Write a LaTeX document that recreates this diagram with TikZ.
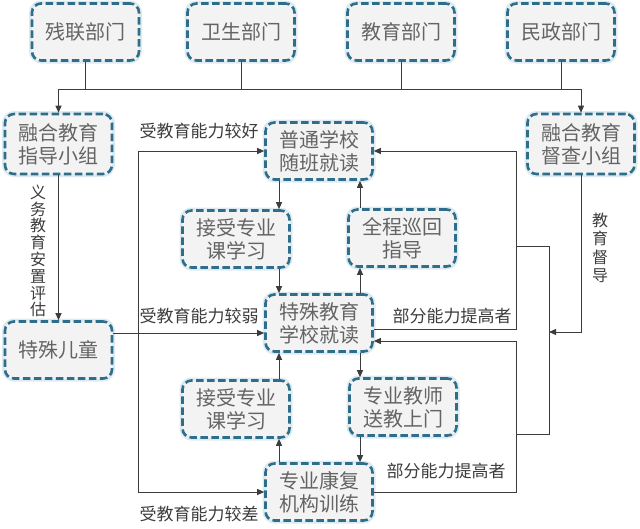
\documentclass[tikz,border=0pt]{standalone}
\usepackage{fontspec}
\newfontfamily\cjk{Noto Sans CJK SC}
\usetikzlibrary{arrows.meta}
\definecolor{bd}{HTML}{2F6E8A}
\definecolor{fl}{HTML}{F3F3F3}
\definecolor{tx}{HTML}{646464}
\definecolor{lc}{HTML}{3C3C3C}
\definecolor{gl}{HTML}{DDEBF1}
\begin{document}
\begin{tikzpicture}[x=1pt,y=-1pt,
 box/.style={draw=bd, fill=fl, line width=2.6pt, dash pattern=on 7.5pt off 3.5pt,
   rounded corners=9pt, minimum width=107pt, minimum height=57pt, inner sep=0pt,
   align=center, text=tx, font=\cjk\fontsize{20}{23}\selectfont,
   preaction={draw=gl, solid, line width=6pt}},
 lab/.style={text=lc, font=\cjk\fontsize{17}{19}\selectfont, inner sep=0pt},
 vlab/.style={text=lc, font=\cjk\fontsize{16}{16.8}\selectfont, inner sep=0pt, align=center},
 ar/.style={draw=lc, line width=1pt, -{Triangle[length=7pt,width=6pt]}},
 conn/.style={draw=lc, line width=1pt}]
\useasboundingbox (0,0) rectangle (640,528);
% nodes
\node[box] (cl) at (85.5,32) {残联部门};
\node[box] (ws) at (241,32) {卫生部门};
\node[box] (jy) at (401,32) {教育部门};
\node[box] (mz) at (561,32) {民政部门};
\node[box, minimum height=60pt] (zd) at (58.5,144) {融合教育\\指导小组};
\node[box, minimum height=60pt] (dc) at (581,144) {融合教育\\督查小组};
\node[box] (pt) at (319,151) {普通学校\\随班就读};
\node[box] (sa) at (236,239) {接受专业\\课学习};
\node[box] (xh) at (402,238) {全程巡回\\指导};
\node[box] (ts) at (319,323) {特殊教育\\学校就读};
\node[box] (er) at (58.5,350) {特殊儿童};
\node[box] (sb) at (236,409) {接受专业\\课学习};
\node[box] (sj) at (403,407) {专业教师\\送教上门};
\node[box] (kf) at (319,492) {专业康复\\机构训练};
% top bus
\coordinate (bl) at (58.5,89);
\coordinate (br) at (581,89);
\draw[conn] (cl.south) -- (cl.south |- bl);
\draw[conn] (ws.south) -- (ws.south |- bl);
\draw[conn] (jy.south) -- (jy.south |- bl);
\draw[conn] (mz.south) -- (mz.south |- bl);
\draw[conn] (bl) -- (br);
\draw[ar] (bl) -- (zd.north);
\draw[ar] (br) -- (dc.north);
\draw[ar] (zd.south) -- (er.north);
% left splitting
\coordinate (sp) at (138,333);
\draw[ar] (er.east |- sp) -- (ts.west |- sp);
\draw[ar] (sp) |- (pt.west);
\draw[ar] (sp) |- (kf.west);
% middle column
\coordinate (xl) at (279,0);
\coordinate (xr) at (360,0);
\draw[ar] (pt.south -| xl) -- (sa.north -| xl);
\draw[ar] (sa.south -| xl) -- (ts.north -| xl);
\draw[ar] (ts.north -| xr) -- (xh.south -| xr);
\draw[ar] (xh.north -| xr) -- (pt.south -| xr);
\draw[ar] (kf.north -| xl) -- (sb.south -| xl);
\draw[ar] (sb.north -| xl) -- (ts.south -| xl);
\draw[ar] (ts.south -| xr) -- (sj.north -| xr);
\draw[ar] (sj.south -| xr) -- (kf.north -| xr);
% right side
\coordinate (r1) at (516,329);
\coordinate (r2) at (516,341);
\draw[ar] (ts.east |- r1) -- (r1) |- (pt.east);
\draw[ar] (kf.east) -| (r2) -- (ts.east |- r2);
\coordinate (b1) at (516,246);
\coordinate (b2) at (549,246);
\coordinate (b3) at (549,434);
\coordinate (b4) at (516,434);
\draw[conn] (b1) -- (b2) -- (b3) -- (b4);
\coordinate (d1) at (549,332);
\draw[ar] (dc.south) |- (d1);
% labels
\node[lab] (l1) at (199,131) {受教育能力较好};
\node[lab] (l2) at (199,316) {受教育能力较弱};
\node[lab] (l3) at (199,514) {受教育能力较差};
\node[lab] (l4) at (452,316) {部分能力提高者};
\node[lab] (l5) at (446,471) {部分能力提高者};
\node[vlab] (l6) at (38,251) {义\\务\\教\\育\\安\\置\\评\\估};
\node[vlab, font=\cjk\fontsize{16}{18.5}\selectfont] (l7) at (600,248) {教\\育\\督\\导};
\end{tikzpicture}
\end{document}
